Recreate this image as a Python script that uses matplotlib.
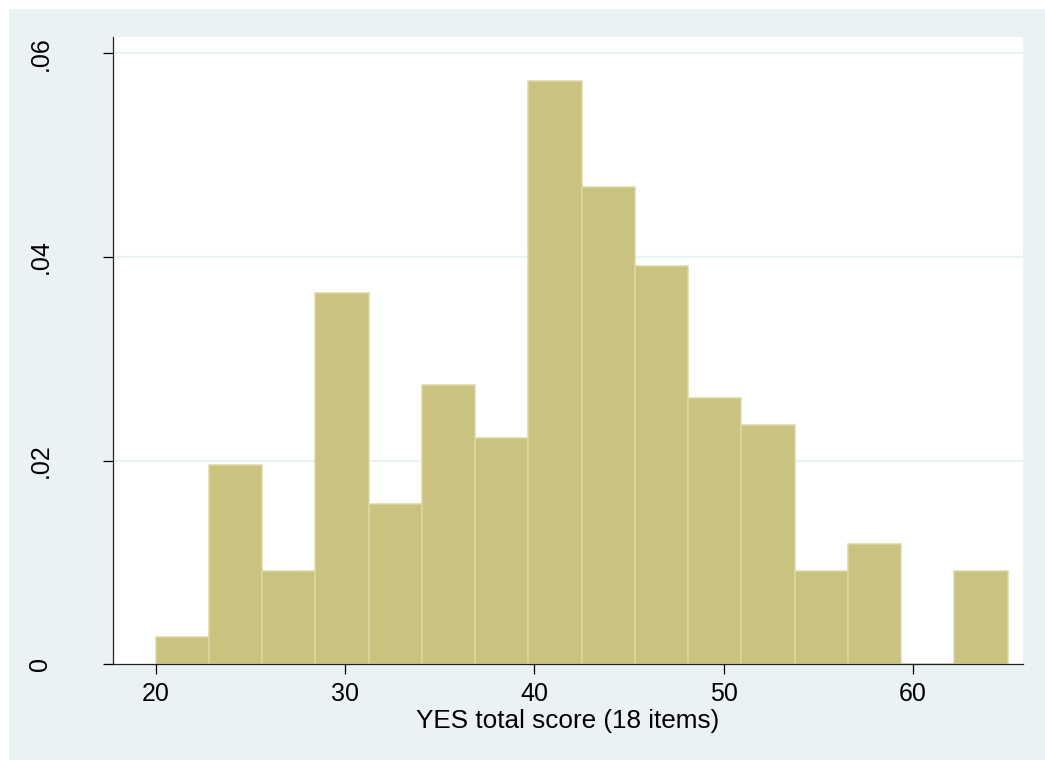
import numpy as np
import matplotlib
matplotlib.use("Agg")
import matplotlib.pyplot as plt
from matplotlib.patches import Rectangle

plt.rcParams['font.family'] = ['Liberation Sans', 'DejaVu Sans']

# histogram: 16 bins of width 45/16 starting at 20
bin_start = 20.0
bin_width = 45.0 / 16
density = [0.0027, 0.0196, 0.0092, 0.0365, 0.0157, 0.0274, 0.0222, 0.0573,
           0.0469, 0.0391, 0.0262, 0.0235, 0.0092, 0.0118, 0.0, 0.0092]
edges = bin_start + bin_width * np.arange(len(density))

xticks = [20, 30, 40, 50, 60]
yticks = [0, 0.02, 0.04, 0.06]
ytick_labels = ["0", ".02", ".04", ".06"]
xlabel = "YES total score (18 items)"

bg = "#EAF2F3"
bar_face = "#CAC27F"
bar_edge = "#DCD8A2"

fig = plt.figure(figsize=(10.45, 7.6), dpi=100)
fig.patch.set_facecolor("white")
fig.patches.append(Rectangle((9 / 1045, 0), 1, 1 - 9 / 760, transform=fig.transFigure,
                             facecolor=bg, edgecolor="none", zorder=-10))

ax = fig.add_axes([112.7 / 1045, 1 - 664.4 / 760, (1023.3 - 112.7) / 1045, (664.4 - 37) / 760])
ax.set_facecolor("white")

ax.bar(edges, density, width=bin_width, align="edge", color=bar_face,
       edgecolor=bar_edge, linewidth=1.1, zorder=3)

ax.set_xlim(20 - (155.7 - 112.7) / 18.93, 20 + (1023.3 - 155.7) / 18.93)
ax.set_ylim(0, (664.4 - 37) / 10185)

ax.set_yticks(yticks)
ax.set_yticklabels(ytick_labels, rotation=90, va="center")
ax.set_xticks(xticks)
ax.set_xticklabels([str(t) for t in xticks])

for y in yticks[1:]:
    ax.axhline(y, color=bg, lw=1.6, zorder=1)

for s in ["top", "right"]:
    ax.spines[s].set_visible(False)
for s in ["left", "bottom"]:
    ax.spines[s].set_linewidth(0.9)
    ax.spines[s].set_color("#222222")
    ax.spines[s].set_zorder(5)

ax.tick_params(axis="x", length=7.5, width=0.9, labelsize=18, pad=5.5, colors="black")
ax.tick_params(axis="y", length=7.5, width=0.9, labelsize=18, pad=36, colors="black")

ax.set_xlabel(xlabel, fontsize=18.8, labelpad=2)

fig.savefig("out.png", dpi=100, facecolor=fig.get_facecolor())
